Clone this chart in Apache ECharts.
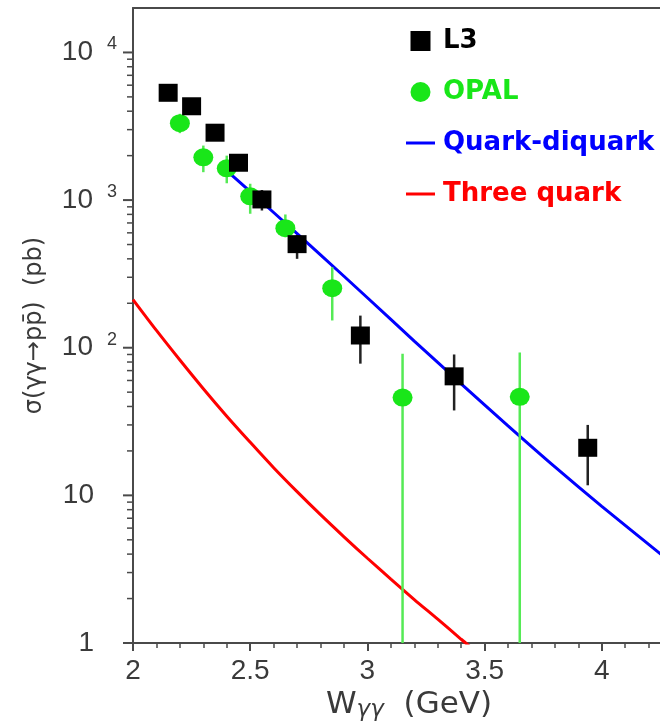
<!DOCTYPE html>
<html>
<head>
<meta charset="utf-8">
<script src="https://cdn.jsdelivr.net/npm/echarts@6/dist/echarts.min.js"></script>
<style>
  html, body { margin: 0; padding: 0; background: #ffffff; overflow: hidden; }
  /* the plot frame runs on past the right edge of the page */
  #chart { width: 719px; height: 722px; }
</style>
</head>
<body>
<div id="chart"></div>
<script>
// L3 measurements: W (GeV), cross section (pb), error band low / high
const xL3  = [2.15, 2.25, 2.35, 2.45, 2.55, 2.70, 2.97, 3.37, 3.94];
const yL3  = [5330, 4320, 2860, 1790, 1010, 503, 121, 64, 21];
const loL3 = [5000, 4050, 2650, 1640, 850, 400, 78, 37.6, 11.7];
const hiL3 = [5650, 4600, 3070, 1950, 1170, 580, 165, 90, 30];

// OPAL measurements
const xOPAL  = [2.20, 2.30, 2.40, 2.50, 2.65, 2.85, 3.15, 3.65];
const yOPAL  = [3320, 1950, 1640, 1060, 645, 253, 46, 46.5];
const loOPAL = [2840, 1545, 1300, 808, 561, 153, 0, 0];
const hiOPAL = [3840, 2340, 2000, 1290, 799, 351, 91, 93];

// Quark-diquark model prediction
const xQD = [2.42, 2.6, 2.8, 3.0, 3.2, 3.4, 3.6, 3.8, 4.0, 4.25, 4.35];
const yQD = [1480, 824, 426, 218, 111, 57.0, 29.6, 15.6, 8.43, 4.01, 3.0];

// Three quark model prediction
const xTQ = [2.0, 2.1, 2.2, 2.3, 2.4, 2.5, 2.6, 2.7, 2.8, 2.9, 3.0, 3.1, 3.2, 3.3, 3.4, 3.45];
const yTQ = [212, 131, 82.6, 52.8, 34.4, 22.9, 15.4, 10.6, 7.40, 5.24, 3.75, 2.71, 1.97, 1.45, 1.06, 0.91];

// Axis ticks
const xTickValues = [2, 2.5, 3, 3.5, 4];
const yMajorTicks = [1, 10, 100, 1000, 10000];
const yMinorTicks = [2, 3, 4, 5, 6, 7, 8, 9,
                     20, 30, 40, 50, 60, 70, 80, 90,
                     200, 300, 400, 500, 600, 700, 800, 900,
                     2000, 3000, 4000, 5000, 6000, 7000, 8000, 9000];

const X_MIN = 2, X_MAX = 4.5, Y_MIN = 1, Y_MAX = 20000;
const AXIS_COLOR = '#4a4a4a';
const TEXT_COLOR = '#3a3a3a';
const GREEN = '#19e619';
const LINE_ICON = 'path://M0,0H29V3H0Z';

const zip = (a, b) => a.map((v, i) => [v, b[i]]);
const errRows = (x, lo, hi) => x.map((v, i) => [v, lo[i], hi[i]]);

function errorBarSeries(rows, color, width) {
  return {
    type: 'custom',
    data: rows,
    encode: { x: 0, y: [1, 2] },
    z: 3,
    clip: true,
    renderItem(params, api) {
      const x = api.value(0);
      const lo = Math.max(api.value(1), Y_MIN);
      const hi = api.value(2);
      const p0 = api.coord([x, lo]);
      const p1 = api.coord([x, hi]);
      return {
        type: 'line',
        shape: { x1: p0[0], y1: p0[1], x2: p1[0], y2: p1[1] },
        style: { stroke: color, lineWidth: width }
      };
    }
  };
}

// Tick marks on the logarithmic axis (decades and 2..9 sub-divisions)
const yTickRows = yMajorTicks.map(v => [X_MIN, v, 1]).concat(yMinorTicks.map(v => [X_MIN, v, 0]));

const chart = echarts.init(document.getElementById('chart'), null, { renderer: 'canvas' });

chart.setOption({
  backgroundColor: '#ffffff',
  animation: false,
  grid: { left: 133, top: 8, right: 0, bottom: 79, containLabel: false, outerBoundsMode: 'none' },
  legend: {
    orient: 'vertical',
    left: 406,
    top: 27,
    padding: 0,
    itemWidth: 29,
    itemHeight: 20,
    itemGap: 23,
    symbolKeepAspect: true,
    textStyle: { fontFamily: 'DejaVu Sans', fontWeight: 'bold', fontSize: 26, lineHeight: 28, padding: [0, 0, 0, 3] },
    data: [
      { name: 'L3', icon: 'path://M0,0H1V1H0Z', textStyle: { color: '#000000' } },
      { name: 'OPAL', icon: 'circle', textStyle: { color: GREEN } },
      { name: 'Quark-diquark', icon: LINE_ICON, textStyle: { color: '#0000ff' } },
      { name: 'Three quark', icon: LINE_ICON, textStyle: { color: '#ff0000' } }
    ]
  },
  xAxis: [
    {
      type: 'value',
      min: X_MIN, max: X_MAX, interval: 0.5,
      position: 'bottom',
      axisLine: { show: true, onZero: false, lineStyle: { color: AXIS_COLOR, width: 2 } },
      axisTick: { show: true, length: 8, lineStyle: { color: AXIS_COLOR, width: 2 } },
      minorTick: { show: true, splitNumber: 5, length: 5, lineStyle: { color: AXIS_COLOR, width: 1.5 } },
      splitLine: { show: false },
      axisLabel: {
        fontFamily: 'Liberation Sans', fontSize: 28, color: TEXT_COLOR, margin: 14,
        formatter: v => (xTickValues.indexOf(v) >= 0 ? String(v) : '')
      },
      name: '{w|W}{g|γγ}{w|  (GeV)}',
      nameLocation: 'middle',
      nameGap: 40,
      nameTextStyle: {
        padding: [0, 34, 0, 0],
        rich: {
          w: { fontFamily: 'DejaVu Sans', fontSize: 31, color: TEXT_COLOR },
          g: { fontFamily: 'DejaVu Sans', fontStyle: 'italic', fontSize: 23, color: TEXT_COLOR, padding: [10, 0, 0, 0] }
        }
      }
    },
    {
      type: 'value',
      min: X_MIN, max: X_MAX,
      position: 'top',
      axisLine: { show: true, onZero: false, lineStyle: { color: AXIS_COLOR, width: 2 } },
      axisTick: { show: false },
      axisLabel: { show: false },
      splitLine: { show: false }
    }
  ],
  yAxis: {
    type: 'log',
    logBase: 10,
    min: Y_MIN, max: Y_MAX,
    axisLine: { show: true, lineStyle: { color: AXIS_COLOR, width: 2 } },
    axisTick: { show: false },
    minorTick: { show: false },
    splitLine: { show: false },
    axisLabel: {
      margin: 16,
      showMaxLabel: false,
      formatter(value) {
        const e = Math.round(Math.log10(value));
        if (Math.abs(Math.pow(10, e) - value) > 1e-6 * value) return '';
        if (e === 0) return '{b|1}{g|}';
        if (e === 1) return '{b|10}{g|}';
        return '{b|10}{s|' + e + '}';
      },
      rich: {
        b: { fontFamily: 'Liberation Sans', fontSize: 28, color: TEXT_COLOR },
        s: { fontFamily: 'Liberation Sans', fontSize: 18, color: TEXT_COLOR, padding: [0, 0, 16, 14] },
        g: { width: 23 }
      }
    },
    name: 'σ(γγ→pp̄)  (pb)',
    nameLocation: 'middle',
    nameGap: 86,
    nameTextStyle: { fontFamily: 'DejaVu Sans', fontSize: 24, color: TEXT_COLOR }
  },
  series: [
    {
      name: 'Quark-diquark',
      type: 'line',
      data: zip(xQD, yQD),
      symbol: 'none',
      smooth: 0.3,
      z: 2,
      lineStyle: { color: '#0000ff', width: 3 },
      itemStyle: { color: '#0000ff' }
    },
    {
      name: 'Three quark',
      type: 'line',
      data: zip(xTQ, yTQ),
      symbol: 'none',
      smooth: 0.3,
      z: 2,
      lineStyle: { color: '#ff0000', width: 3 },
      itemStyle: { color: '#ff0000' }
    },
    errorBarSeries(errRows(xOPAL, loOPAL, hiOPAL), '#55ea55', 2.5),
    errorBarSeries(errRows(xL3, loL3, hiL3), '#222222', 2.5),
    {
      name: 'OPAL',
      type: 'scatter',
      data: zip(xOPAL, yOPAL),
      symbol: 'circle',
      symbolSize: [20, 18],
      z: 4,
      itemStyle: { color: GREEN, opacity: 1 }
    },
    {
      name: 'L3',
      type: 'scatter',
      data: zip(xL3, yL3),
      symbol: 'rect',
      symbolSize: [19, 18],
      z: 5,
      itemStyle: { color: '#000000', opacity: 1 }
    },
    {
      type: 'custom',
      data: yTickRows,
      encode: { x: 0, y: 1 },
      clip: false,
      silent: true,
      renderItem(params, api) {
        const p = api.coord([api.value(0), api.value(1)]);
        const len = api.value(2) ? 10 : 6;
        return {
          type: 'line',
          shape: { x1: p[0] - len, y1: p[1], x2: p[0], y2: p[1] },
          style: { stroke: AXIS_COLOR, lineWidth: api.value(2) ? 2 : 1.5 }
        };
      }
    }
  ]
});
</script>
</body>
</html>
